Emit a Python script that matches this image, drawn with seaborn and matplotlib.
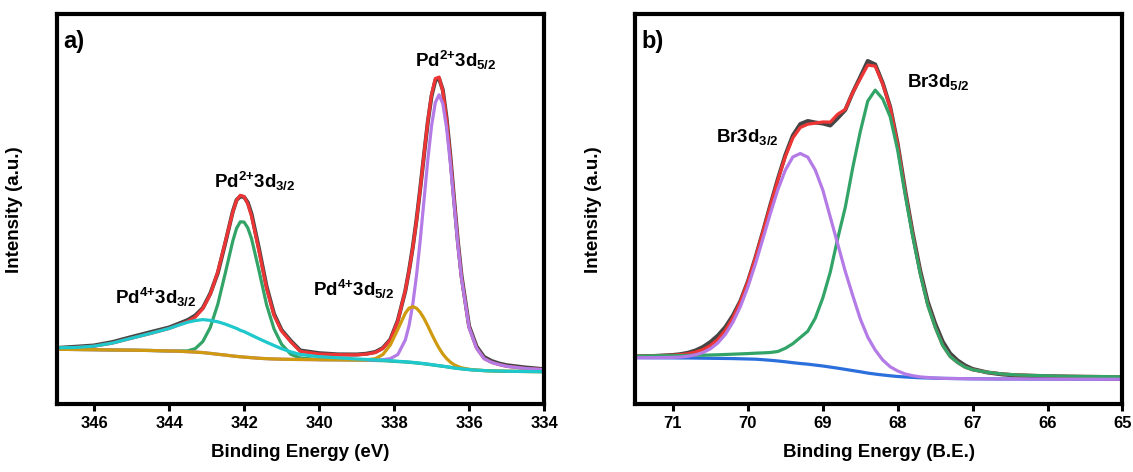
import numpy as np
import pandas as pd
import matplotlib
matplotlib.use("Agg")
import matplotlib.pyplot as plt
import seaborn as sns

# ---------------- data (panel a: Pd 3d) ----------------
E_a = [347.0, 346.5, 346.0, 345.5, 345.0, 344.5, 344.0, 343.75, 343.5, 343.3,
       343.1, 342.9, 342.7, 342.5, 342.3, 342.2, 342.1, 342.0, 341.9, 341.8,
       341.6, 341.4, 341.2, 341.0, 340.75, 340.5, 340.0, 339.5, 339.0, 338.75,
       338.5, 338.3, 338.1, 337.9, 337.7, 337.6, 337.5, 337.4, 337.3, 337.2,
       337.1, 337.0, 336.9, 336.8, 336.7, 336.6, 336.5, 336.4, 336.3, 336.2,
       336.0, 335.8, 335.6, 335.4, 335.2, 335.0, 334.5, 334.0]
raw_a = [56.0, 57.2, 58.5, 62.0, 67.0, 71.8, 76.5, 80.2, 84.0, 88.5,
         96.0, 110.5, 131.0, 161.0, 192.5, 204.0, 207.5, 207.0, 201.5, 190.0,
         155.0, 117.5, 90.0, 74.0, 63.0, 53.5, 50.8, 49.6, 49.5, 50.2,
         52.0, 56.0, 64.5, 83.5, 113.0, 133.5, 157.0, 184.5, 216.0, 249.5,
         282.0, 308.0, 323.5, 325.5, 314.0, 286.0, 248.5, 205.0, 163.0, 128.0,
         78.0, 57.5, 47.0, 43.0, 40.5, 38.8, 36.5, 34.8]
fit_a = [56.2, 56.5, 57.8, 61.0, 65.8, 70.5, 75.5, 79.0, 82.6, 86.9,
         95.4, 109.6, 132.2, 161.9, 192.0, 203.6, 208.7, 207.4, 200.1, 187.8,
         152.7, 115.8, 88.5, 73.0, 62.0, 52.5, 50.0, 49.3, 49.2, 49.8,
         51.5, 55.5, 64.0, 83.0, 113.5, 133.0, 156.2, 183.9, 215.8, 250.1,
         282.9, 309.4, 325.4, 326.9, 312.8, 284.6, 246.6, 203.7, 161.5, 126.2,
         76.7, 55.9, 45.4, 41.6, 39.4, 37.7, 35.5, 34.3]
bg_a = [54.7, 54.5, 54.3, 54.0, 53.8, 53.5, 53.0, 52.8, 52.3, 51.9,
        51.4, 50.6, 49.7, 48.9, 48.0, 47.6, 47.2, 46.9, 46.6, 46.3,
        45.7, 45.3, 45.0, 44.8, 44.6, 44.5, 44.3, 44.2, 44.0, 43.8,
        43.5, 43.3, 42.9, 42.4, 42.0, 41.7, 41.4, 41.0, 40.6, 40.2,
        39.7, 39.2, 38.7, 38.2, 37.7, 37.2, 36.6, 36.1, 35.6, 35.2,
        34.4, 33.8, 33.4, 33.1, 32.9, 32.7, 32.5, 32.3]
# component heights above background
pd4_32 = [1.5, 2, 3.5, 7, 12, 17, 22.5, 26, 29.5, 31.5,
          33, 33, 32.5, 31, 29, 28, 26.5, 25.5, 24, 22.5,
          19.5, 16.5, 13.5, 10.5, 7.5, 5, 3, 2, 1, 0.8,
          0.6, 0.5, 0.4, 0.3, 0.2, 0.2, 0.2, 0.2, 0.2, 0.2,
          0.2, 0.2, 0.1, 0.1, 0.1, 0.1, 0.1, 0, 0, 0,
          0, 0, 0, 0, 0, 0, 0, 0]
pd2_32 = [0, 0, 0, 0, 0, 0, 0, 0.2, 0.8, 3.5,
          11, 26, 50, 82, 115, 128, 135, 135, 129.5, 119,
          87.5, 54, 30, 15, 5, 1.5, 0.1, 0, 0, 0,
          0, 0, 0, 0, 0, 0, 0, 0, 0, 0,
          0, 0, 0, 0, 0, 0, 0, 0, 0, 0,
          0, 0, 0, 0, 0, 0, 0, 0]
pd4_52 = [0, 0, 0, 0, 0, 0, 0, 0, 0, 0,
          0, 0, 0, 0, 0, 0, 0, 0, 0, 0,
          0, 0, 0, 0, 0, 0, 0, 0, 0, 0.25,
          1.8, 6.1, 16.1, 32.2, 48.8, 54.1, 56, 54.7, 51, 45.3,
          38.4, 31, 23.9, 17.6, 12.3, 8.3, 5.3, 3.2, 1.9, 1.0,
          0.3, 0.1, 0, 0, 0, 0, 0, 0]
pd2_52 = [0, 0, 0, 0, 0, 0, 0, 0, 0, 0,
          0, 0, 0, 0, 0, 0, 0, 0, 0, 0,
          0, 0, 0, 0, 0, 0, 0, 0.1, 0.2, 0.3,
          0.5, 1, 2.5, 7, 22, 36.7, 58.6, 88, 124, 164.4,
          204.6, 239, 262.7, 271, 262.7, 239, 204.6, 164.4, 124, 90,
          42, 22, 12, 8.5, 6.5, 5, 3, 2]

# ---------------- data (panel b: Br 3d) ----------------
E_b = [71.5, 71.25, 71.0, 70.9, 70.8, 70.7, 70.6, 70.5, 70.4, 70.3,
       70.2, 70.1, 70.0, 69.9, 69.8, 69.7, 69.6, 69.5, 69.4, 69.3,
       69.2, 69.1, 69.0, 68.9, 68.8, 68.7, 68.6, 68.5, 68.4, 68.3,
       68.2, 68.1, 68.0, 67.9, 67.8, 67.7, 67.6, 67.5, 67.4, 67.3,
       67.2, 67.1, 67.0, 66.8, 66.6, 66.4, 66.0, 65.5, 65.0]
raw_b = [47.5, 48.0, 49.0, 49.8, 51.2, 53.5, 57.0, 62.0, 68.5, 77.0,
         88.5, 103.0, 122.5, 146.0, 172.0, 199.0, 225.0, 249.0, 268.5, 280.0,
         283.0, 281.5, 280.5, 278.5, 286.0, 294.0, 311.5, 327.0, 343.0, 339.5,
         321.0, 297.0, 260.0, 213.5, 171.0, 133.5, 102.5, 80.5, 62.5, 50.5,
         43.5, 38.5, 35.0, 31.5, 29.5, 28.5, 27.5, 26.5, 25.0]
fit_b = [47.8, 48.2, 48.8, 49.3, 50.3, 51.9, 54.4, 58.5, 64.7, 73.7,
         86.2, 102.3, 122.4, 146.0, 171.8, 198.3, 223.8, 247.4, 266.0, 276.5,
         279.8, 280.9, 282.0, 281.9, 289.8, 294.6, 311.4, 325.2, 338.9, 337.9,
         320.0, 296.2, 259.0, 212.0, 169.3, 131.1, 99.5, 77.0, 58.7, 47.5,
         41.4, 36.8, 34.2, 31.6, 30.0, 29.0, 28.2, 27.6, 27.2]
bg_b = [46.3, 46.2, 46.1, 46.0, 46.0, 45.9, 45.8, 45.7, 45.6, 45.5,
        45.4, 45.2, 45.0, 44.8, 44.3, 43.7, 43.0, 42.2, 41.3, 40.5,
        39.8, 38.9, 38.0, 36.9, 35.8, 34.6, 33.4, 32.2, 30.9, 29.9,
        29.0, 28.2, 27.5, 27.0, 26.6, 26.2, 26.0, 25.8, 25.6, 25.5,
        25.4, 25.3, 25.2, 25.1, 25.0, 25.0, 24.9, 24.8, 24.7]
br_32 = [0, 0.1, 0.5, 0.9, 1.7, 3.2, 5.6, 9.5, 15.5, 24.2,
         36.4, 52.2, 72, 95.2, 120.7, 146.8, 171.3, 191.7, 205.7, 210,
         207, 195, 176, 150, 124, 98, 75, 53, 36, 24,
         15, 9, 5.5, 3, 1.7, 0.9, 0.5, 0.2, 0.1, 0,
         0, 0, 0, 0, 0, 0, 0, 0, 0]
br_52 = [1.5, 2, 2.2, 2.4, 2.6, 2.8, 3.0, 3.3, 3.6, 4.0,
         4.4, 4.9, 5.4, 6.0, 6.8, 7.8, 9.5, 13.5, 19, 26,
         33, 47, 68, 95, 130, 162, 203, 240, 272, 284,
         276, 259, 226, 182, 141, 104, 73, 51, 33, 22,
         16, 11.5, 9, 6.5, 5, 4, 3.3, 2.8, 2.5]

# ---------------- style ----------------
sns.set_theme(style="white")
plt.rcParams['font.family'] = ['Liberation Sans', 'DejaVu Sans']
plt.rcParams['font.weight'] = 'bold'
plt.rcParams['axes.labelweight'] = 'bold'
plt.rcParams['text.color'] = 'black'
plt.rcParams['axes.labelcolor'] = 'black'
plt.rcParams['xtick.color'] = 'black'
plt.rcParams['ytick.color'] = 'black'
plt.rcParams['mathtext.fontset'] = 'custom'
plt.rcParams['mathtext.rm'] = 'Liberation Sans:bold'
plt.rcParams['mathtext.bf'] = 'Liberation Sans:bold'
plt.rcParams['mathtext.it'] = 'Liberation Sans:bold'
plt.rcParams['mathtext.default'] = 'rm'

fig = plt.figure(figsize=(11.33, 4.72), dpi=100)
ax_a = fig.add_axes([0.0499, 0.1441, 0.4303, 0.8252])
ax_b = fig.add_axes([0.5609, 0.1441, 0.4298, 0.8252])

da = pd.DataFrame({"E": E_a, "raw": raw_a, "fit": fit_a, "bg": bg_a})
da["pd2_32"] = da["bg"] + np.array(pd2_32)
da["pd2_52"] = da["bg"] + np.array(pd2_52)
da["pd4_52"] = da["bg"] + np.array(pd4_52)
da["pd4_32"] = da["bg"] + np.array(pd4_32)

db = pd.DataFrame({"E": E_b, "raw": raw_b, "fit": fit_b, "bg": bg_b})
db["br_52"] = db["bg"] + np.array(br_52)
db["br_32"] = db["bg"] + np.array(br_32)

LW = 2.3
curves_a = [("bg", "#6fa8dc", 1.5), ("raw", "#454545", 2.9), ("fit", "#ee3535", LW),
            ("pd2_32", "#33a468", LW), ("pd2_52", "#b47be6", LW),
            ("pd4_52", "#cf9a0f", LW), ("pd4_32", "#1ec8cc", LW)]
for col, c, lw in curves_a:
    sns.lineplot(data=da, x="E", y=col, ax=ax_a, color=c, linewidth=lw,
                 sort=False, estimator=None)

curves_b = [("bg", "#2a6fdb", LW), ("raw", "#454545", 2.9), ("fit", "#ee3535", LW),
            ("br_52", "#33a468", LW), ("br_32", "#b47be6", LW)]
for col, c, lw in curves_b:
    sns.lineplot(data=db, x="E", y=col, ax=ax_b, color=c, linewidth=lw,
                 sort=False, estimator=None)

for ax, xl, ticks, xlab in [(ax_a, (347, 334), [346, 344, 342, 340, 338, 336, 334],
                             "Binding Energy (eV)"),
                            (ax_b, (71.5, 65), [71, 70, 69, 68, 67, 66, 65],
                             "Binding Energy (B.E.)")]:
    ax.set_xlim(*xl)
    ax.set_ylim(0, 389.5)
    ax.set_xticks(ticks)
    ax.set_xticklabels([str(t) for t in ticks])
    ax.set_yticks([])
    ax.tick_params(axis='x', direction='out', length=5, width=2.2,
                   labelsize=12, pad=4, bottom=True, colors='black')
    for lab in ax.get_xticklabels():
        lab.set_fontweight('bold')
    for s in ax.spines.values():
        s.set_linewidth(3)
        s.set_color('black')
    ax.set_xlabel(xlab, fontsize=13.5, fontweight='bold', labelpad=9, color='black')
    ax.set_ylabel("Intensity (a.u.)", fontsize=13.5, fontweight='bold', labelpad=24,
                  color='black')

tk = dict(fontsize=13.5, fontweight='bold', ha='center', va='center', color='black')
ax_a.text(336.36, 344, r"Pd$^{2{+}}$3d$_{5/2}$", **tk)
ax_a.text(341.71, 223, r"Pd$^{2{+}}$3d$_{3/2}$", **tk)
ax_a.text(344.36, 107, r"Pd$^{4{+}}$3d$_{3/2}$", **tk)
ax_a.text(339.07, 115, r"Pd$^{4{+}}$3d$_{5/2}$", **tk)
ax_b.text(70.01, 267, r"Br3d$_{3/2}$", **tk)
ax_b.text(67.46, 322, r"Br3d$_{5/2}$", **tk)

ax_a.text(0.013, 0.93, "a)", transform=ax_a.transAxes, fontsize=17,
          fontweight='bold', ha='left', va='center', color='black')
ax_b.text(0.013, 0.93, "b)", transform=ax_b.transAxes, fontsize=17,
          fontweight='bold', ha='left', va='center', color='black')

fig.savefig("out.png", dpi=100)
